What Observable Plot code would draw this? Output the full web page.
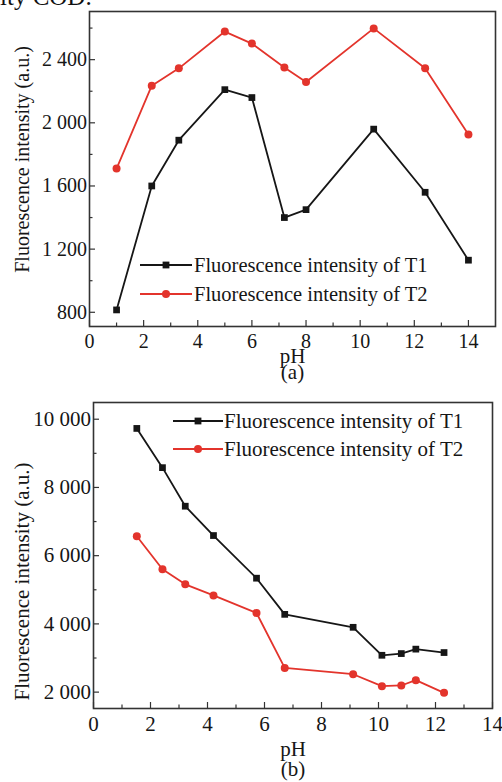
<!DOCTYPE html>
<html><head><meta charset="utf-8">
<script src="https://cdn.jsdelivr.net/npm/d3@7"></script>
<script src="https://cdn.jsdelivr.net/npm/@observablehq/plot@0.6"></script>
<style>
body{margin:0;background:#fff;width:502px;height:782px;overflow:hidden;position:relative;font-family:"Liberation Serif","Times New Roman",serif;color:#111;}
.panel{position:absolute;left:0;width:502px;}
.panel svg{display:block;}
.leg{position:absolute;left:0;top:0;pointer-events:none;}
</style></head><body>
<div id="cut" style="position:absolute;left:0;top:-16px;font-size:25px;line-height:25px;">ity COD.</div>
<div id="a" class="panel" style="top:0;height:390px"></div>
<div id="b" class="panel" style="top:390px;height:392px"></div>
<script>
// ---- data ----
const phA = [1.0, 2.3, 3.3, 5.0, 6.0, 7.2, 8.0, 10.5, 12.4, 14.0];
const t1A = [815, 1600, 1890, 2210, 2160, 1400, 1450, 1960, 1560, 1130];
const t2A = [1710, 2235, 2345, 2578, 2502, 2350, 2258, 2598, 2346, 1926];

const phB = [1.52, 2.42, 3.22, 4.21, 5.72, 6.71, 9.11, 10.12, 10.8, 11.31, 12.3];
const t1B = [9730, 8580, 7450, 6590, 5340, 4280, 3900, 3080, 3130, 3260, 3160];
const t2B = [6570, 5600, 5160, 4835, 4320, 2710, 2525, 2175, 2195, 2350, 1980];

const seriesNames = ["Fluorescence intensity of T1", "Fluorescence intensity of T2"];
const yTitle = "Fluorescence intensity (a.u.)";
const xTitle = "pH";
const panelLabels = ["(a)", "(b)"];

const xMajor = [0, 2, 4, 6, 8, 10, 12, 14];
const xMinor = [1, 3, 5, 7, 9, 11, 13];
const yMajorA = [800, 1200, 1600, 2000, 2400];
const yMinorA = [1000, 1400, 1800, 2200, 2600];
const yMajorB = [2000, 4000, 6000, 8000, 10000];
const yMinorB = [3000, 5000, 7000, 9000];

const BLACK = "#161616", RED = "#e3342c";
const FONT = '"Liberation Serif","Times New Roman",serif';
const fmt = d => d3.format(",")(d).replace(/,/g, "\u00a0");

function panel(cfg) {
  const rows1 = cfg.ph.map((p, i) => ({p, v: cfg.t1[i]}));
  const rows2 = cfg.ph.map((p, i) => ({p, v: cfg.t2[i]}));
  const fw = cfg.width - cfg.ml - cfg.mr;
  const fh = cfg.height - cfg.mt - cfg.mb;
  return Plot.plot({
    width: cfg.width, height: cfg.height,
    marginTop: cfg.mt, marginBottom: cfg.mb, marginLeft: cfg.ml, marginRight: cfg.mr,
    style: {fontFamily: FONT, fontSize: cfg.fs + "px", color: BLACK, background: "transparent", overflow: "visible"},
    x: {domain: cfg.xd, axis: null},
    y: {domain: cfg.yd, axis: null},
    marks: [
      Plot.tickY(cfg.yMajor, {stroke: "#333", strokeWidth: 1.2, insetRight: fw - 6}),
      Plot.tickY(cfg.yMinor, {stroke: "#333", strokeWidth: 1.2, insetRight: fw - 3.5}),
      Plot.tickX(cfg.xMajor, {stroke: "#333", strokeWidth: 1.2, insetTop: fh - 6}),
      Plot.tickX(cfg.xMinor, {stroke: "#333", strokeWidth: 1.2, insetTop: fh - 3.5}),
      Plot.axisY(cfg.yMajor, {tickSize: 0, tickPadding: 2.5, tickFormat: fmt, label: null, fontSize: cfg.fs}),
      Plot.axisX(cfg.xMajor, {tickSize: 0, tickPadding: cfg.xpad, label: null, fontSize: cfg.fs}),
      Plot.frame({stroke: "#333", strokeWidth: 1.6}),
      Plot.line(rows1, {x: "p", y: "v", stroke: BLACK, strokeWidth: 1.8}),
      Plot.line(rows2, {x: "p", y: "v", stroke: RED, strokeWidth: 1.8}),
      Plot.dot(rows1, {x: "p", y: "v", symbol: "square", r: 3.8, fill: BLACK}),
      Plot.dot(rows2, {x: "p", y: "v", symbol: "circle", r: 4, fill: RED}),
      Plot.text([xTitle], {frameAnchor: "bottom", lineAnchor: "bottom", textAnchor: "middle", dy: cfg.phDy, fontSize: cfg.tfs, fill: BLACK}),
      Plot.text([cfg.label], {frameAnchor: "bottom", lineAnchor: "bottom", textAnchor: "middle", dy: cfg.labDy, fontSize: cfg.tfs, fill: BLACK}),
      Plot.text([yTitle], {frameAnchor: "left", rotate: -90, textAnchor: "middle", lineAnchor: "middle", dx: cfg.ytDx, dy: cfg.ytDy, fontSize: cfg.fs, fill: BLACK})
    ]
  });
}

function legend(container, L) {
  const svg = d3.create("svg").attr("class", "leg").attr("width", 502).attr("height", L.h)
    .style("font-family", FONT).style("font-size", L.fs + "px");
  const items = [
    {name: seriesNames[0], color: BLACK, sym: "square", y: L.y[0]},
    {name: seriesNames[1], color: RED, sym: "circle", y: L.y[1]}
  ];
  for (const it of items) {
    svg.append("line").attr("x1", L.x0).attr("x2", L.x1).attr("y1", it.y).attr("y2", it.y)
      .attr("stroke", it.color).attr("stroke-width", 1.8);
    const cx = (L.x0 + L.x1) / 2;
    if (it.sym === "square") {
      svg.append("rect").attr("x", cx - 3.4).attr("y", it.y - 3.4).attr("width", 6.8).attr("height", 6.8).attr("fill", it.color);
    } else {
      svg.append("circle").attr("cx", cx).attr("cy", it.y).attr("r", 4).attr("fill", it.color);
    }
    svg.append("text").attr("x", L.xt).attr("y", it.y + L.bo).attr("fill", BLACK).text(it.name);
  }
  container.appendChild(svg.node());
}

const elA = document.getElementById("a");
elA.appendChild(panel({
  ph: phA, t1: t1A, t2: t2A, width: 502, height: 390, mt: 11, mb: 64, ml: 89, mr: 7,
  xd: [0, 15], yd: [710, 2705], xMajor, xMinor, yMajor: yMajorA, yMinor: yMinorA,
  fs: 20, tfs: 21, xpad: 7, phDy: 36, labDy: 52, label: panelLabels[0], ytDx: -67, ytDy: -9.5
}));
legend(elA, {h: 390, x0: 140, x1: 192, xt: 194, y: [265, 294], bo: 6.6, fs: 20.5});

const elB = document.getElementById("b");
elB.appendChild(panel({
  ph: phB, t1: t1B, t2: t2B, width: 502, height: 392, mt: 12, mb: 74, ml: 93, mr: 10,
  xd: [0, 14], yd: [1520, 10490], xMajor, xMinor, yMajor: yMajorB, yMinor: yMinorB,
  fs: 21, tfs: 21, xpad: 8, phDy: 47, labDy: 67, label: panelLabels[1], ytDx: -71, ytDy: 26
}));
legend(elB, {h: 392, x0: 173, x1: 223, xt: 224, y: [31, 59], bo: 6.8, fs: 21});
</script>
</body></html>
